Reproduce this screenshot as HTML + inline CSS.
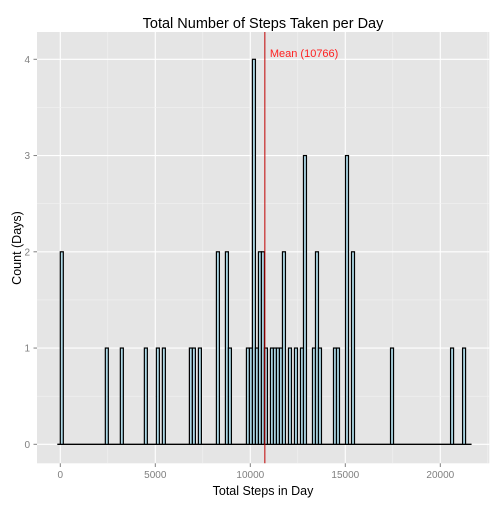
<!DOCTYPE html>
<html><head><meta charset="utf-8"><style>
body{margin:0;background:#fff}
svg{font-family:"Liberation Sans",Arial,sans-serif}
</style></head><body>
<svg id="chart" width="504" height="504">
<rect x="0" y="0" width="504" height="504" fill="#fff"/>
<rect x="37" y="32" width="452.3" height="431.3" fill="#e5e5e5"/>
<g id="grid"></g><g id="bars"></g><g id="axes"></g>
<text x="263" y="28" text-anchor="middle" font-size="14.5" fill="#000">Total Number of Steps Taken per Day</text>
<text x="263" y="495" text-anchor="middle" font-size="12.5" fill="#000">Total Steps in Day</text>
<text transform="translate(21,248) rotate(-90)" text-anchor="middle" font-size="12.5" fill="#000">Count (Days)</text>
</svg>
<script>
const binIndex=[0,15,20,28,32,34,43,44,46,52,55,56,62,63,64,65,66,67,68,70,71,72,73,74,76,78,80,81,84,85,86,91,92,95,97,110,130,134];
const binCounts=[2,1,1,1,1,1,1,1,1,2,2,1,1,1,4,1,2,2,1,1,1,1,1,2,1,1,1,3,1,2,1,1,1,3,2,1,1,1];
const xTicks=[0,5000,10000,15000,20000];
const yTicks=[0,1,2,3,4];
const meanSteps=10766;
const binWidth=158;
const firstBin=-1,lastBin=136;
const NS="http://www.w3.org/2000/svg";
const X=v=>60.3+v*0.019, Y=c=>444.3-c*96.25;
function mk(p,t,a){const e=document.createElementNS(NS,t);for(const k in a)e.setAttribute(k,a[k]);document.getElementById(p).appendChild(e);return e;}
for(let i=0;i<xTicks.length;i++){
 const v=xTicks[i];
 const g=mk('grid','line',{x1:X(v),x2:X(v),y1:32,y2:463.3,stroke:'#fff','stroke-width':1.1});
 
 const mv=v+2500;
 if(X(mv)<489){const m=mk('grid','line',{x1:X(mv),x2:X(mv),y1:32,y2:463.3,stroke:'#f2f2f2','stroke-width':0.6});
 }
}
for(const c of yTicks){
 const g=mk('grid','line',{x1:37,x2:489.3,y1:Y(c),y2:Y(c),stroke:'#fff','stroke-width':1.1});
 
 if(c<4){const m=mk('grid','line',{x1:37,x2:489.3,y1:Y(c+0.5),y2:Y(c+0.5),stroke:'#f2f2f2','stroke-width':0.6});
 }
}
const bl=mk('bars','line',{x1:X(firstBin*binWidth),x2:X((lastBin+1)*binWidth),y1:Y(0),y2:Y(0),stroke:'#000','stroke-width':1.3});

for(let i=0;i<binIndex.length;i++){
 const x0=X(binIndex[i]*binWidth),x1=X((binIndex[i]+1)*binWidth);
 const r=mk('bars','rect',{x:x0,y:Y(binCounts[i]),width:x1-x0,height:Y(0)-Y(binCounts[i]),fill:'#add8e6',stroke:'#000','stroke-width':1.2});
 
}
const ml=mk('bars','line',{x1:X(meanSteps),x2:X(meanSteps),y1:32,y2:463.3,stroke:'#c00000','stroke-width':1});

const mt=mk('bars','text',{x:X(meanSteps)+5,y:57,'font-size':11,fill:'#ff2020'});
mt.textContent='Mean ('+meanSteps+')';

for(const v of xTicks){
 const t=mk('axes','line',{x1:X(v),x2:X(v),y1:463.3,y2:467,stroke:'#7f7f7f','stroke-width':1});
 
 const l=mk('axes','text',{x:X(v),y:478,'text-anchor':'middle','font-size':10,fill:'#7f7f7f'});
 l.textContent=v;
}
for(const c of yTicks){
 const t=mk('axes','line',{x1:33.5,x2:37,y1:Y(c),y2:Y(c),stroke:'#7f7f7f','stroke-width':1});
 
 const l=mk('axes','text',{x:30,y:Y(c)+3.5,'text-anchor':'end','font-size':10,fill:'#7f7f7f'});
 l.textContent=c;
}
</script>
</body></html>
